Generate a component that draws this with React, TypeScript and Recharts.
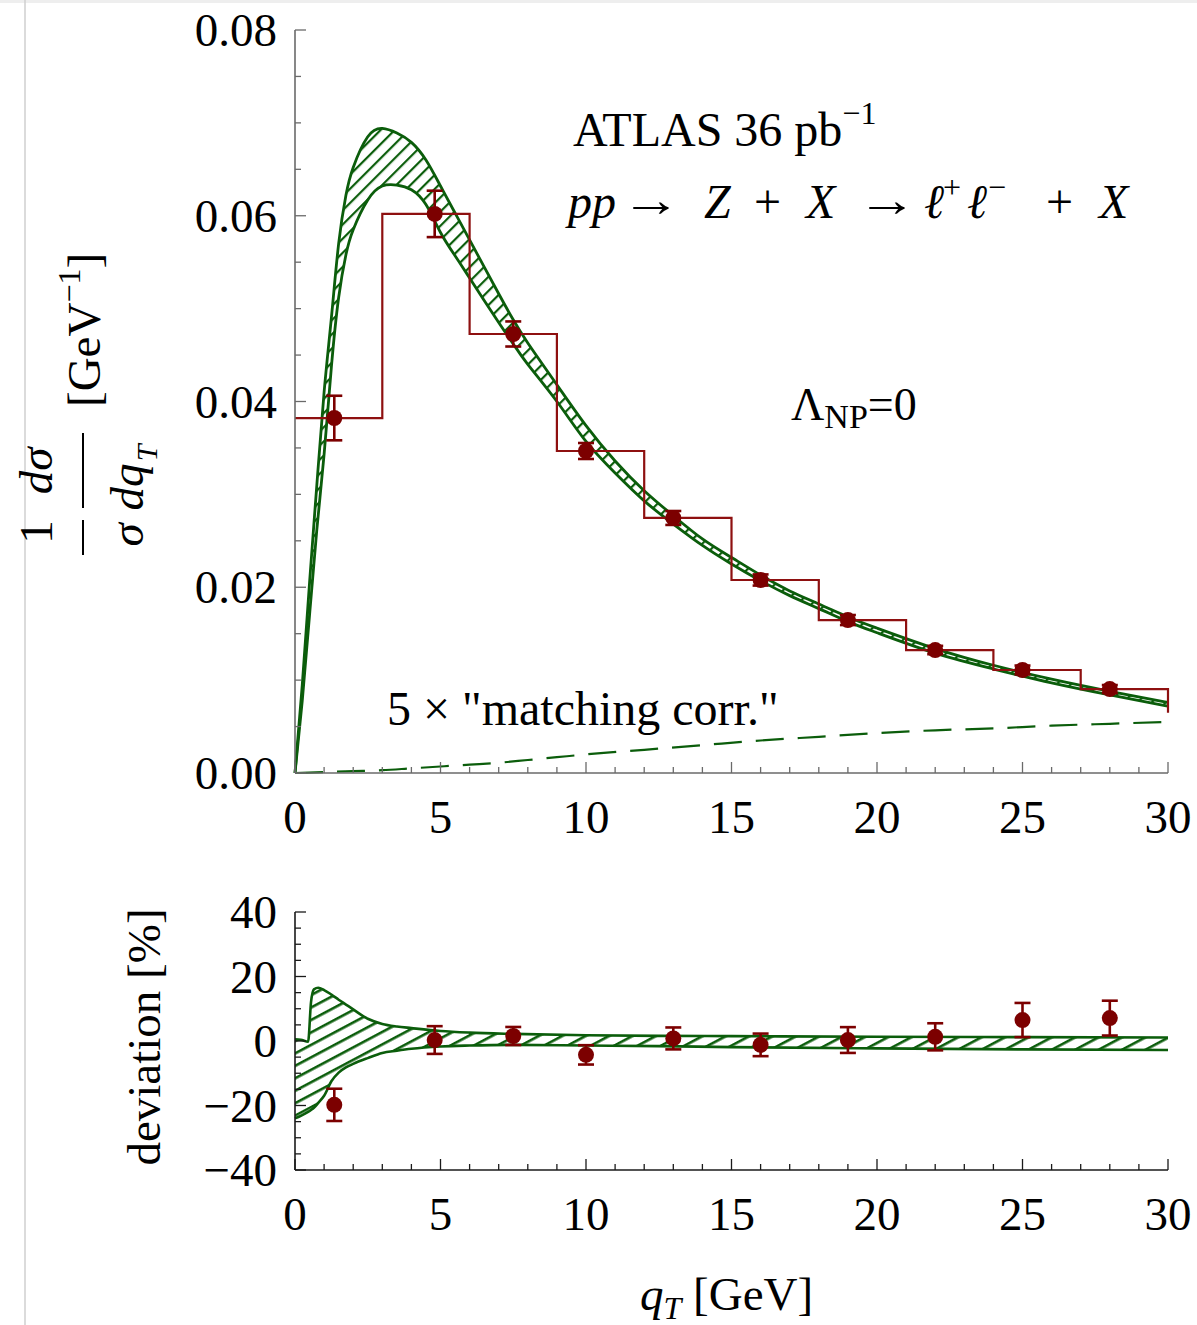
import React from 'react';
import { ComposedChart, XAxis, YAxis, Area, Line, Scatter, ErrorBar } from 'recharts';

const GREEN = '#0b5d0b';
const RED = '#7c0000';
const HIST = '#8e1010';
const FRAME_TOP = '#6a6a6a';
const FRAME_BOT = '#1a1a1a';
const FONT = "'Liberation Serif', 'Times New Roman', 'DejaVu Serif', serif";

// ---------- top panel data ----------
const bandX = [0, 0.25, 0.5, 0.75, 1, 1.25, 1.5, 1.75, 2, 2.5, 3, 3.5, 4, 4.5, 5, 5.5, 6, 7, 7.5, 8, 9, 10, 11, 12, 13, 14, 15, 16, 17, 18, 19, 20, 22, 24, 26, 28, 30];
const bandHi = [0, 0.0095, 0.0205, 0.031, 0.041, 0.049, 0.057, 0.0622, 0.0652, 0.0685, 0.0694, 0.0689, 0.0679, 0.066, 0.0632, 0.0603, 0.0574, 0.0516, 0.0488, 0.0463, 0.0418, 0.0374, 0.0336, 0.0304, 0.0277, 0.0252, 0.0232, 0.0213, 0.0196, 0.0182, 0.0168, 0.0156, 0.0134, 0.0116, 0.0101, 0.0088, 0.0076];
const bandLo = [0, 0.0078, 0.017, 0.0262, 0.0343, 0.0437, 0.0512, 0.0558, 0.0585, 0.0617, 0.0632, 0.0633, 0.0628, 0.0612, 0.0582, 0.0557, 0.0533, 0.0485, 0.0462, 0.044, 0.04, 0.0357, 0.0323, 0.0293, 0.0268, 0.0245, 0.0225, 0.0207, 0.0191, 0.0177, 0.0163, 0.0151, 0.0129, 0.0112, 0.0097, 0.0084, 0.0072];

const matchX = [0, 1, 2, 3, 4, 5, 6, 7, 8, 9, 10, 12, 14, 16, 18, 20, 22, 24, 26, 28, 30];
const matchV = [0, 0.0001, 0.0002, 0.0003, 0.0005, 0.0007, 0.0009, 0.0011, 0.0014, 0.0017, 0.002, 0.0025, 0.003, 0.0035, 0.0039, 0.0043, 0.0046, 0.0048, 0.0051, 0.0053, 0.0055];

const binEdges = [0, 3, 6, 9, 12, 15, 18, 21, 24, 27, 30];
const binVals = [0.03822, 0.0602, 0.04727, 0.03467, 0.02746, 0.02078, 0.01647, 0.01324, 0.01109, 0.00904, 0.0065];

const ptX = [1.35, 4.8, 7.5, 10, 13, 16, 19, 22, 25, 28];
const ptY = [0.03822, 0.0602, 0.04727, 0.03467, 0.02746, 0.02078, 0.01647, 0.01324, 0.01109, 0.00904];
const ptErr = [0.0024, 0.0025, 0.00135, 0.00086, 0.00075, 0.0006, 0.00054, 0.00045, 0.00048, 0.00043];

// ---------- bottom panel data ----------
const devX = [0, 0.2, 0.45, 0.55, 0.65, 0.8, 1, 1.25, 1.5, 1.75, 2, 2.5, 3, 3.5, 4, 5, 6, 7.5, 10, 12.5, 15, 20, 25, 30];
const devHi = [0.5, 0.4, -0.2, 12, 16, 16.5, 15.8, 14.4, 12.8, 11.3, 9.8, 6.9, 5.3, 4.5, 4.0, 3.1, 2.6, 2.2, 1.8, 1.6, 1.5, 1.3, 1.2, 1.1];
const devLo = [-24, -23.2, -22, -21.4, -20.7, -19.2, -17, -12.5, -9.8, -8.2, -7.1, -5.3, -3.7, -3.0, -2.4, -1.7, -1.4, -1.2, -1.4, -1.6, -1.9, -2.3, -2.6, -2.8];

const devPtY = [-19.8, 0.3, 1.55, -4.3, 0.8, -1.2, 0.3, 1.3, 6.5, 7.1];
const devPtErr = [5.0, 4.3, 2.8, 3.0, 3.4, 3.5, 4.0, 4.2, 5.3, 5.4];

// ticks
const xTicks = Array.from({ length: 31 }, (_, i) => i);
const yTopTicks = Array.from({ length: 17 }, (_, i) => Math.round(i * 5) / 1000);
const yBotTicks = Array.from({ length: 17 }, (_, i) => -40 + i * 5);

// rows for the library
const topBand = bandX.map((x, i) => ({ x, lo: bandLo[i], hi: bandHi[i] }));
const matchRows = matchX.map((x, i) => ({ x, v: matchV[i] }));
const histRows = binEdges.map((x, i) => ({ x, v: binVals[i] }));
const topPts = ptX.map((x, i) => ({ x, y: ptY[i], err: ptErr[i] }));
const botBand = devX.map((x, i) => ({ x, lo: devLo[i], hi: devHi[i] }));
const botPts = ptX.map((x, i) => ({ x, y: devPtY[i], err: devPtErr[i] }));

type Side = 'bottom' | 'top' | 'left' | 'right';

const makeTick = (side: Side, isMajor: (v: number) => boolean, color: string, fmt?: (v: number) => string) =>
  (p: any) => {
    const { x, y, payload } = p;
    const v = payload.value;
    const major = isMajor(v);
    const len = major ? 11 : 6;
    let line: any = null;
    if (side === 'bottom') line = <line x1={x} y1={y} x2={x} y2={y - len} stroke={color} strokeWidth={1.3} />;
    if (side === 'top') line = <line x1={x} y1={y} x2={x} y2={y + len} stroke={color} strokeWidth={1.3} />;
    if (side === 'left') line = <line x1={x} y1={y} x2={x + len} y2={y} stroke={color} strokeWidth={1.3} />;
    if (side === 'right') line = <line x1={x} y1={y} x2={x - len} y2={y} stroke={color} strokeWidth={1.3} />;
    let label: any = null;
    if (fmt && major) {
      if (side === 'bottom')
        label = <text x={x} y={y + 60} textAnchor="middle" fontSize={47} fontFamily={FONT} fill="#000">{fmt(v)}</text>;
      if (side === 'left')
        label = <text x={x - 18} y={y + 16} textAnchor="end" fontSize={47} fontFamily={FONT} fill="#000">{fmt(v)}</text>;
    }
    return <g>{line}{label}</g>;
  };

const isInt5 = (v: number) => Math.abs(v / 5 - Math.round(v / 5)) < 1e-6;
const isTopMajor = (v: number) => Math.abs(v / 0.02 - Math.round(v / 0.02)) < 1e-6;
const isBotMajor = (v: number) => Math.abs(v / 20 - Math.round(v / 20)) < 1e-6;
const fmtInt = (v: number) => (v < 0 ? '\u2212' + Math.abs(v) : String(v));
const fmtTop = (v: number) => v.toFixed(2);

const dot = (p: any) => <circle cx={p.cx} cy={p.cy} r={8} fill={RED} />;

const TopChart = () => (
  <ComposedChart width={1197} height={860} margin={{ top: 30, right: 29, bottom: 0, left: 0 }}>
    <defs>
      <pattern id="hatchTop" patternUnits="userSpaceOnUse" width={10} height={10} patternTransform="rotate(-45)">
        <rect x={0} y={0} width={10} height={2.2} fill={GREEN} />
      </pattern>
    </defs>
    <XAxis dataKey="x" type="number" domain={[0, 30]} ticks={xTicks} interval={0} height={87}
      tickSize={0} tickMargin={0} tickLine={false} axisLine={{ stroke: FRAME_TOP, strokeWidth: 1.6 }}
      tick={makeTick('bottom', isInt5, FRAME_TOP, fmtInt)} />
    <XAxis xAxisId="t" orientation="top" dataKey="x" type="number" domain={[0, 30]} ticks={xTicks} interval={0} height={0}
      tickSize={0} tickMargin={0} tickLine={false} axisLine={{ stroke: FRAME_TOP, strokeWidth: 1.6 }}
      tick={makeTick('top', isInt5, FRAME_TOP)} />
    <YAxis type="number" domain={[0, 0.08]} ticks={yTopTicks} interval={0} width={295}
      tickSize={0} tickMargin={0} tickLine={false} axisLine={{ stroke: FRAME_TOP, strokeWidth: 1.6 }}
      tick={makeTick('left', isTopMajor, FRAME_TOP, fmtTop)} />
    <YAxis yAxisId="r" orientation="right" type="number" domain={[0, 0.08]} ticks={yTopTicks} interval={0} width={0}
      tickSize={0} tickMargin={0} tickLine={false} axisLine={{ stroke: FRAME_TOP, strokeWidth: 1.6 }}
      tick={makeTick('right', isTopMajor, FRAME_TOP)} />
    <Area data={topBand} dataKey={(d: any) => [d.lo, d.hi]} type="natural" stroke={GREEN} strokeWidth={2.8}
      fill="url(#hatchTop)" fillOpacity={1} dot={false} activeDot={false} isAnimationActive={false} />
    <Line data={matchRows} dataKey="v" type="monotone" stroke={GREEN} strokeWidth={2.2} strokeDasharray="28 14"
      dot={false} activeDot={false} isAnimationActive={false} />
    <Line data={histRows} dataKey="v" type="stepAfter" stroke={HIST} strokeWidth={2.2}
      dot={false} activeDot={false} isAnimationActive={false} />
    <Scatter data={topPts} dataKey="y" fill={RED} shape={dot} isAnimationActive={false}>
      <ErrorBar dataKey="err" direction="y" width={8} stroke={RED} strokeWidth={2.6} />
    </Scatter>
  </ComposedChart>
);

const BottomChart = () => (
  <ComposedChart width={1197} height={465} margin={{ top: 52, right: 29, bottom: 0, left: 0 }}>
    <defs>
      <pattern id="hatchBot" patternUnits="userSpaceOnUse" width={11} height={11} patternTransform="rotate(-28)">
        <rect x={0} y={0} width={11} height={2.6} fill={GREEN} />
      </pattern>
    </defs>
    <XAxis dataKey="x" type="number" domain={[0, 30]} ticks={xTicks} interval={0} height={155}
      tickSize={0} tickMargin={0} tickLine={false} axisLine={{ stroke: FRAME_BOT, strokeWidth: 1.6 }}
      tick={makeTick('bottom', isInt5, FRAME_BOT, fmtInt)} />
    <XAxis xAxisId="t" orientation="top" dataKey="x" type="number" domain={[0, 30]} ticks={xTicks} interval={0} height={0}
      tickSize={0} tickMargin={0} tickLine={false} axisLine={{ stroke: FRAME_BOT, strokeWidth: 1.6 }}
      tick={makeTick('top', isInt5, FRAME_BOT)} />
    <YAxis type="number" domain={[-40, 40]} ticks={yBotTicks} interval={0} width={295}
      tickSize={0} tickMargin={0} tickLine={false} axisLine={{ stroke: FRAME_BOT, strokeWidth: 1.6 }}
      tick={makeTick('left', isBotMajor, FRAME_BOT, fmtInt)} />
    <YAxis yAxisId="r" orientation="right" type="number" domain={[-40, 40]} ticks={yBotTicks} interval={0} width={0}
      tickSize={0} tickMargin={0} tickLine={false} axisLine={{ stroke: FRAME_BOT, strokeWidth: 1.6 }}
      tick={makeTick('right', isBotMajor, FRAME_BOT)} />
    <Area data={botBand} dataKey={(d: any) => [d.lo, d.hi]} type="monotone" stroke={GREEN} strokeWidth={2.6}
      fill="url(#hatchBot)" fillOpacity={1} dot={false} activeDot={false} isAnimationActive={false} />
    <Scatter data={botPts} dataKey="y" fill={RED} shape={dot} isAnimationActive={false}>
      <ErrorBar dataKey="err" direction="y" width={8} stroke={RED} strokeWidth={2.6} />
    </Scatter>
  </ComposedChart>
);

const T = (p: any) => <text fontFamily={FONT} fill="#000" {...p} />;

const Overlay = () => (
  <svg width={1197} height={1325} style={{ position: 'absolute', left: 0, top: 0, pointerEvents: 'none' }}>
    <rect x={0} y={0} width={1197} height={3} fill="#eeeeee" />
    <line x1={25} y1={0} x2={25} y2={1325} stroke="#cfcfcf" strokeWidth={1.5} />

    {/* ATLAS label */}
    <T x={573} y={146} fontSize={48}>ATLAS 36 pb<tspan fontSize={32} dy={-22}>{'\u22121'}</tspan></T>

    {/* process */}
    <T x={568} y={218} fontSize={48} fontStyle="italic">pp</T>
    <T x={621} y={216} fontSize={48} textLength={60} lengthAdjust="spacingAndGlyphs">{'\u2192'}</T>
    <T x={704} y={218} fontSize={48} fontStyle="italic">Z</T>
    <T x={754} y={218} fontSize={48}>+</T>
    <T x={806} y={218} fontSize={48} fontStyle="italic">X</T>
    <T x={857} y={216} fontSize={48} textLength={60} lengthAdjust="spacingAndGlyphs">{'\u2192'}</T>
    <T x={924} y={218} fontSize={48} fontStyle="italic">{'\u2113'}</T>
    <T x={943} y={198} fontSize={32}>+</T>
    <T x={967} y={218} fontSize={48} fontStyle="italic">{'\u2113'}</T>
    <T x={988} y={198} fontSize={32}>{'\u2212'}</T>
    <T x={1046} y={218} fontSize={48}>+</T>
    <T x={1099} y={218} fontSize={48} fontStyle="italic">X</T>

    {/* Lambda NP */}
    <T x={791} y={420} fontSize={46}>{'\u039B'}<tspan fontSize={34} dy={8}>NP</tspan><tspan fontSize={46} dy={-8}>=0</tspan></T>

    {/* matching corr */}
    <T x={387} y={725} fontSize={48}>5 {'\u00D7'} "matching corr."</T>

    {/* y label top */}
    <g transform="rotate(-90)">
      <T x={-532} y={52} fontSize={47} textAnchor="middle">1</T>
      <line x1={-555} x2={-520} y1={83} y2={83} stroke="#000" strokeWidth={2} />
      <T x={-535} y={143} fontSize={47} textAnchor="middle" fontStyle="italic">{'\u03C3'}</T>
      <T x={-471} y={52} fontSize={47} textAnchor="middle" fontStyle="italic">d{'\u03C3'}</T>
      <line x1={-508} x2={-433} y1={83} y2={83} stroke="#000" strokeWidth={2} />
      <T x={-487} y={143} fontSize={47} textAnchor="middle" fontStyle="italic">dq</T>
      <T x={-453} y={157} fontSize={30} textAnchor="middle" fontStyle="italic">T</T>
      <T x={-407} y={100} fontSize={47}>[GeV<tspan fontSize={32} dy={-20}>{'\u22121'}</tspan><tspan dy={20}>]</tspan></T>
    </g>

    {/* y label bottom */}
    <g transform="rotate(-90)">
      <T x={-1037} y={160} fontSize={47} textAnchor="middle">deviation [%]</T>
    </g>

    {/* x label */}
    <T x={640} y={1310} fontSize={47} fontStyle="italic">q<tspan fontSize={32} dy={9}>T</tspan><tspan fontStyle="normal" fontSize={47} dy={-9}> [GeV]</tspan></T>
  </svg>
);

export default function App() {
  return (
    <div style={{ position: 'absolute', left: 0, top: 0, width: 1197, height: 1325, background: '#fff' }}>
      <div style={{ position: 'absolute', left: 0, top: 0 }}>
        <TopChart />
      </div>
      <div style={{ position: 'absolute', left: 0, top: 860 }}>
        <BottomChart />
      </div>
      <Overlay />
    </div>
  );
}
